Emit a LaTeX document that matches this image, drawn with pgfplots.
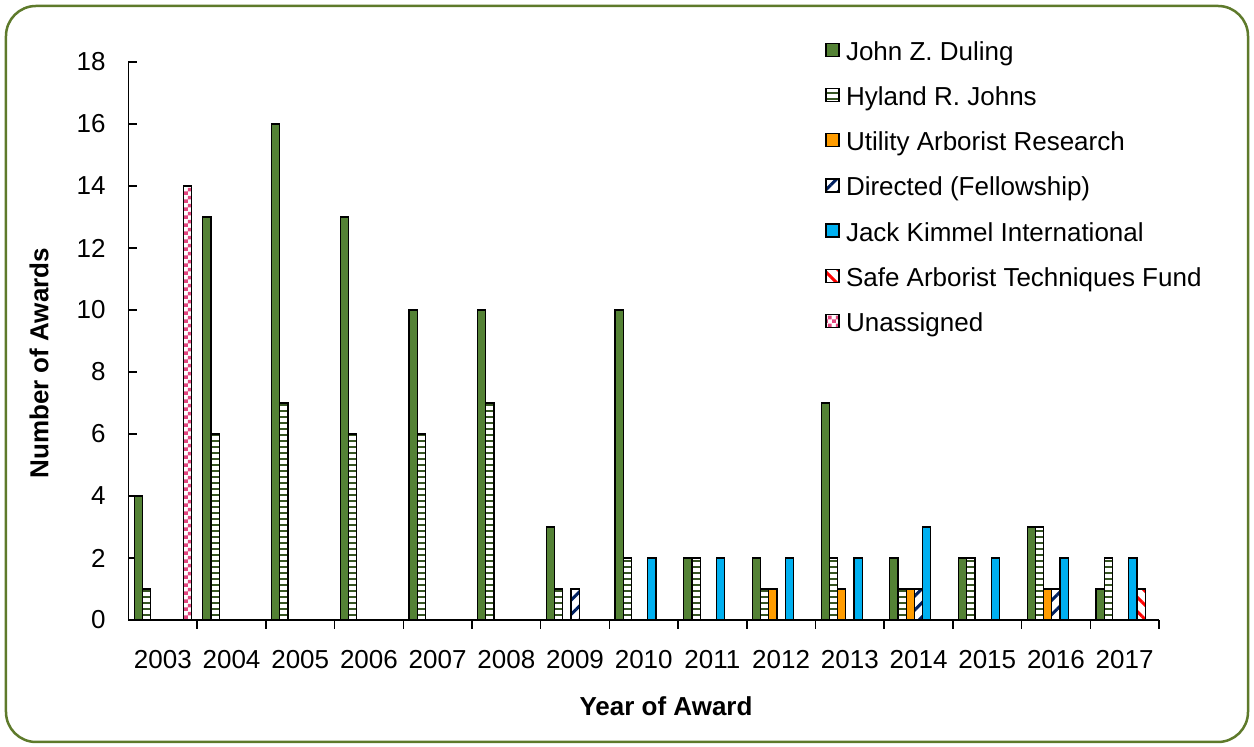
\documentclass[border=0pt]{standalone}
\usepackage{pgfplots}
\pgfplotsset{compat=1.18}
\usepackage{fontspec}
\setmainfont{Liberation Sans}
\usetikzlibrary{patterns,patterns.meta}
\definecolor{duling}{HTML}{548235}
\definecolor{hyland}{HTML}{375623}
\definecolor{utility}{HTML}{FF9C00}
\definecolor{directed}{HTML}{002060}
\definecolor{kimmel}{HTML}{00B0F0}
\definecolor{safe}{HTML}{FF0000}
\definecolor{unassigned}{HTML}{E2467E}
\definecolor{bordercol}{HTML}{5E7A2B}
\pgfdeclarepatternformonly{checkdots}{\pgfpointorigin}{\pgfpoint{4pt}{4pt}}{\pgfpoint{4pt}{4pt}}{%
  \pgfpathrectangle{\pgfpointorigin}{\pgfpoint{2pt}{2pt}}%
  \pgfpathrectangle{\pgfpoint{2pt}{2pt}}{\pgfpoint{2pt}{2pt}}%
  \pgfusepath{fill}}
\newcommand{\chartfont}{\fontsize{13}{15}\selectfont}
\begin{document}
\begin{tikzpicture}
\useasboundingbox (-64.25pt,-63.5pt) rectangle (562.75pt,310pt);
\draw[bordercol, line width=1.25pt, rounded corners=15pt] (-61.25pt,-61pt) rectangle (559.75pt,307pt);
\begin{axis}[
  scale only axis, width=515.25pt, height=279pt,
  at={(0pt,0pt)}, anchor=south west,
  ymin=0, ymax=18, ytick={0,2,...,18},
  xmin=-0.5, xmax=14.5,
  xtick={0,...,14},
  xticklabels={2003,2004,2005,2006,2007,2008,2009,2010,2011,2012,2013,2014,2015,2016,2017},
  minor xtick={0.5,1.5,...,14.5},
  tick align=inside,
  major tick length=4.5pt, minor tick length=4.5pt,
  tick style={black, line width=0.75pt},
  major x tick style={draw=none},
  axis x line*=bottom, axis y line*=left,
  axis line style={line width=0.75pt, black, -},
  tick label style={font=\chartfont},
  /pgf/number format/assume math mode=true,
  yticklabel style={anchor=east, xshift=-11.25pt, inner sep=0pt},
  xticklabel style={anchor=north, yshift=-10.5pt, inner sep=0pt},
  every axis x label/.style={at={(axis description cs:0.5216,0)}, anchor=north, yshift=-38pt, inner sep=0pt, font=\bfseries\chartfont},
  every axis y label/.style={at={(axis description cs:0,0.46)}, xshift=-44.75pt, rotate=90, anchor=center, inner sep=0pt, font=\bfseries\chartfont},
  xlabel={Year of Award},
  ylabel={Number of Awards},
  ybar=0pt, bar width=4.1pt,
  legend image code/.code={\draw[#1, line width=0.6pt] (0pt,-1.25pt) rectangle (6.5pt,5.25pt);},
  legend style={at={(0.6759,1.0371)}, anchor=north west, draw=none, fill=none, inner sep=0pt,
    row sep=10.05pt, column sep=3.2pt, font=\chartfont,
    nodes={inner sep=0pt, text height=9.5pt, text depth=3pt}},
  legend cell align=left,
]
\addplot[draw=black, line width=0.6pt, fill=duling] coordinates {(0,4)(1,13)(2,16)(3,13)(4,10)(5,10)(6,3)(7,10)(8,2)(9,2)(10,7)(11,2)(12,2)(13,3)(14,1)};
\addlegendentry{John Z. Duling}
\addplot[draw=black, line width=0.6pt, pattern={Lines[angle=0,distance=3pt,line width=0.8pt]}, pattern color=hyland] coordinates {(0,1)(1,6)(2,7)(3,6)(4,6)(5,7)(6,1)(7,2)(8,2)(9,1)(10,2)(11,1)(12,2)(13,3)(14,2)};
\addlegendentry{Hyland R. Johns}
\addplot[draw=black, line width=0.6pt, fill=utility] coordinates {(9,1)(10,1)(11,1)(13,1)};
\addlegendentry{Utility Arborist Research}
\addplot[draw=black, line width=0.6pt, pattern={Lines[angle=45,distance=5pt,line width=1.5pt]}, pattern color=directed] coordinates {(6,1)(11,1)(13,1)};
\addlegendentry{Directed (Fellowship)}
\addplot[draw=black, line width=0.6pt, fill=kimmel] coordinates {(7,2)(8,2)(9,2)(10,2)(11,3)(12,2)(13,2)(14,2)};
\addlegendentry{Jack Kimmel International}
\addplot[draw=black, line width=0.6pt, pattern={Lines[angle=-45,distance=5pt,line width=1.5pt]}, pattern color=safe] coordinates {(14,1)};
\addlegendentry{Safe Arborist Techniques Fund}
\addplot[draw=black, line width=0.6pt, pattern=checkdots, pattern color=unassigned] coordinates {(0,14)};
\addlegendentry{Unassigned}
\end{axis}
\end{tikzpicture}
\end{document}
